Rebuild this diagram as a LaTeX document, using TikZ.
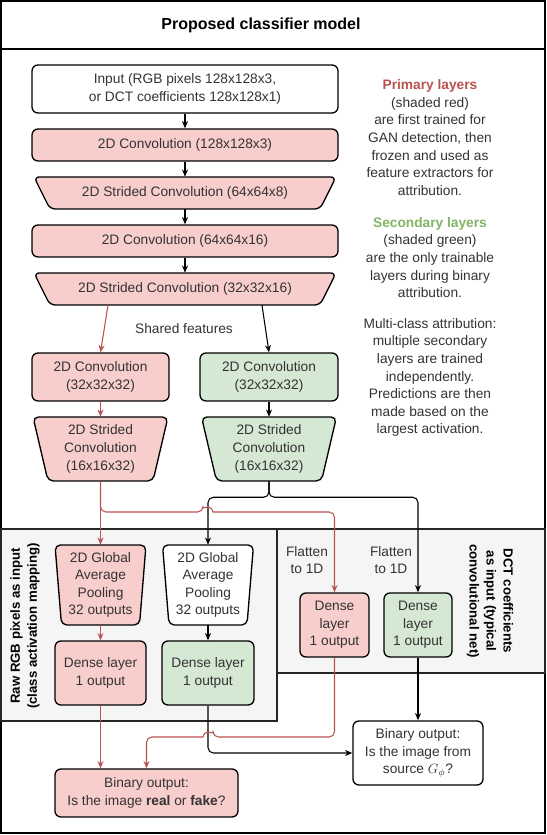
\documentclass[tikz,border=0pt]{standalone}
\usepackage{fontspec}
\setmainfont{Liberation Sans}
\usetikzlibrary{arrows.meta,calc}
\definecolor{redfill}{HTML}{F8CECC}
\definecolor{redline}{HTML}{B85450}
\definecolor{greenfill}{HTML}{D5E8D4}
\definecolor{greentext}{HTML}{82B366}
\definecolor{panelfill}{HTML}{F5F5F5}
\definecolor{tgray}{HTML}{333333}
\newcommand\upx{0.75pt}
\newcommand\trap[8]{%
  \draw[#7, line width=1pt, rounded corners=4pt] (#2-#4,-#3+#6) -- (#2+#4,-#3+#6) -- (#2+#5,-#3-#6) -- (#2-#5,-#3-#6) -- cycle;
  \node[lbl, minimum width=2*#4*\upx, minimum height=2*#6*\upx, inner sep=0pt] (#1) at (#2,-#3) {#8};
}
\begin{document}
\begin{tikzpicture}[x=0.75pt,y=0.75pt,
  lbl/.style={text=tgray, align=center, font=\fontsize{10.3}{13.2}\selectfont},
  box/.style={lbl, draw=black, line width=1pt, rounded corners=4.5pt, inner sep=0pt},
  tip/.style={-{Stealth[length=5.5pt,width=4.5pt]}},
  blk/.style={draw=black, line width=0.8pt, tip},
  rl/.style={draw=redline, line width=0.8pt, tip},
  vlab/.style={align=center, text=black, font=\fontsize{9.9}{12.8}\selectfont\bfseries}
]
\useasboundingbox (0,0) rectangle (546,-835);
% frame and panels
\draw[line width=1.5pt] (1,-1) rectangle (545,-833);
\draw[line width=1.2pt] (1,-49) -- (545,-49);
\draw[line width=1pt, draw=black!85, fill=panelfill] (1,-529) rectangle (277,-721);
\draw[line width=1pt, draw=black!85, fill=panelfill] (277,-529) rectangle (545,-673);
\node[font=\fontsize{12}{14}\selectfont\bfseries] (title) at (261,-25) {Proposed classifier model};
\node[vlab, rotate=90] (leftlab) at (25,-626) {Raw RGB pixels as input\\(class activation mapping)};
\node[vlab, rotate=-90] (rightlab) at (490,-601) {DCT coefficients\\as input (typical\\convolutional net)};

% main column
\node[box, fill=white, minimum width=306*\upx, minimum height=48*\upx] (input) at (185,-89) {Input (RGB pixels 128x128x3,\\or DCT coefficients 128x128x1)};
\node[box, fill=redfill, minimum width=306*\upx, minimum height=32*\upx] (conv1) at (185,-145) {2D Convolution (128x128x3)};
\trap{str1}{185}{193}{151}{135}{16}{fill=redfill}{2D Strided Convolution (64x64x8)}
\node[box, fill=redfill, minimum width=306*\upx, minimum height=32*\upx] (conv2) at (185,-241) {2D Convolution (64x64x16)};
\trap{str2}{185}{289}{151}{135}{16}{fill=redfill}{2D Strided Convolution (32x32x16)}
\node[lbl] (shared) at (184,-329) {Shared features};

% branches
\node[box, fill=redfill, minimum width=137*\upx, minimum height=48*\upx] (rconv) at (100.5,-377) {2D Convolution\\(32x32x32)};
\node[box, fill=greenfill, minimum width=138*\upx, minimum height=48*\upx] (gconv) at (269,-377) {2D Convolution\\(32x32x32)};
\trap{rstr}{100.5}{449}{67.5}{52.5}{32}{fill=redfill}{2D Strided\\Convolution\\(16x16x32)}
\trap{gstr}{269}{449}{67.5}{52.5}{32}{fill=greenfill}{2D Strided\\Convolution\\(16x16x32)}

% left panel
\trap{rpool}{100.5}{585}{45.5}{39}{40}{fill=redfill}{2D Global\\Average\\Pooling\\32 outputs}
\trap{wpool}{208}{585}{45.5}{39}{40}{fill=white}{2D Global\\Average\\Pooling\\32 outputs}
\node[box, fill=redfill, minimum width=91*\upx, minimum height=64*\upx] (rdense) at (100.5,-673) {Dense layer\\1 output};
\node[box, fill=greenfill, minimum width=92*\upx, minimum height=64*\upx] (gdense) at (208,-673) {Dense layer\\1 output};

% right panel
\node[lbl] (flat1) at (307,-560) {Flatten\\to 1D};
\node[lbl] (flat2) at (391,-560) {Flatten\\to 1D};
\node[box, fill=redfill, minimum width=69*\upx, minimum height=64*\upx] (rdense2) at (334.5,-625) {Dense\\layer\\1 output};
\node[box, fill=greenfill, minimum width=68*\upx, minimum height=64*\upx] (gdense2) at (418,-625) {Dense\\layer\\1 output};

% outputs
\node[box, fill=white, minimum width=130*\upx, minimum height=64*\upx] (bout) at (418,-753) {Binary output:\\Is the image from\\source $G_\phi$?};
\node[box, fill=redfill, minimum width=183*\upx, minimum height=48*\upx] (rbout) at (146.5,-793) {Binary output:\\Is the image \textbf{real} or \textbf{fake}?};

% side notes
\node[lbl] (prim) at (430,-137.5) {\textcolor{redline}{\textbf{Primary layers}}\\(shaded red)\\are first trained for\\GAN detection, then\\frozen and used as\\feature extractors for\\attribution.};
\node[lbl] (sec) at (430,-257.5) {\textcolor{greentext}{\textbf{Secondary layers}}\\(shaded green)\\are the only trainable\\layers during binary\\attribution.};
\node[lbl] (multi) at (430,-377.5) {Multi-class attribution:\\multiple secondary\\layers are trained\\independently.\\Predictions are then\\made based on the\\largest activation.};

% connectors
\draw[blk] (input) -- (conv1);
\draw[blk] (conv1) -- (str1);
\draw[blk] (str1) -- (conv2);
\draw[blk] (conv2) -- (str2);
\draw[rl] ($(str2.south)+(-77,0)$) -- (rconv.north);
\draw[blk] ($(str2.south)+(77,0)$) -- (gconv.north);
\draw[rl] (rconv) -- (rstr);
\draw[blk] (gconv) -- (gstr);
\draw[blk, rounded corners=4pt] (gstr.south) -- ++(0,-16) -| (wpool.north);
\draw[blk, rounded corners=4pt] (gstr.south) -- ++(0,-16) -| (gdense2.north);
\draw[rl] (rstr) -- (rpool);
\draw[rl] (rstr.south) [rounded corners=4pt] |- (203,-512) [sharp corners] arc[start angle=180,end angle=0,radius=3.75pt] [rounded corners=4pt] -| (rdense2.north);
\draw[rl] (rpool) -- (rdense);
\draw[blk] (wpool) -- (gdense);
\draw[rl] (rdense.south) -- (rdense.south |- rbout.north);
\draw[blk, rounded corners=4pt] (gdense.south) |- (bout.west);
\draw[rl] (rdense2.south) [rounded corners=4pt] |- (213,-737) [sharp corners] arc[start angle=0,end angle=180,radius=3.75pt] [rounded corners=4pt] -| (rbout.north);
\draw[blk] (gdense2) -- (bout);
\end{tikzpicture}
\end{document}
